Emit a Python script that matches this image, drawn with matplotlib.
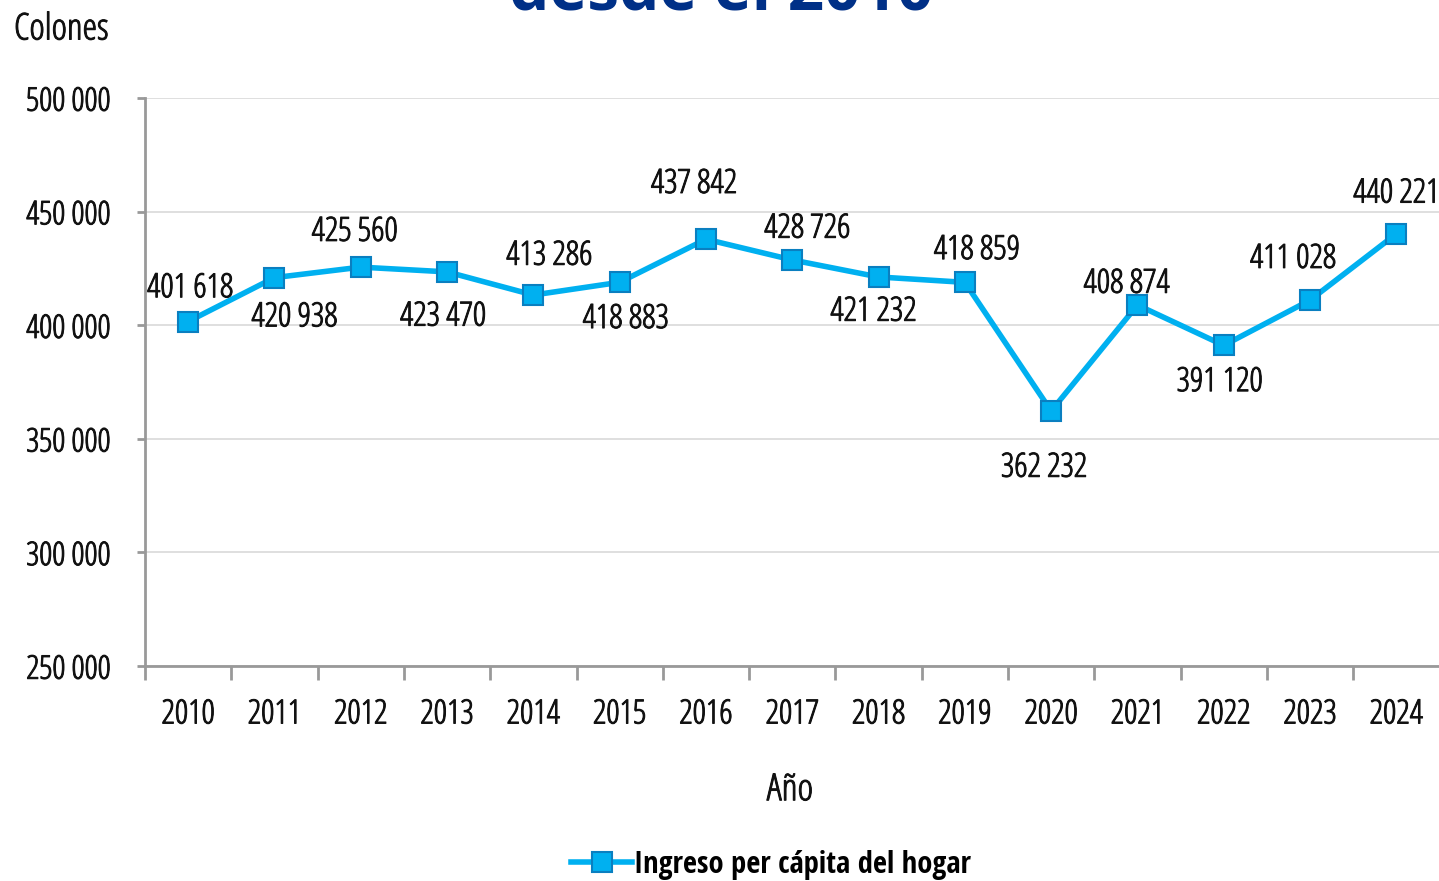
import matplotlib
matplotlib.use("Agg")
import matplotlib.pyplot as plt
from matplotlib.lines import Line2D
from matplotlib import font_manager as fm
import matplotlib.patheffects as pe

years = ["2010", "2011", "2012", "2013", "2014", "2015", "2016", "2017",
         "2018", "2019", "2020", "2021", "2022", "2023", "2024"]
ingreso = [401618, 420938, 425560, 423470, 413286, 418883, 437842, 428726,
           421232, 418859, 362232, 408874, 391120, 411028, 440221]
yticks = [250000, 300000, 350000, 400000, 450000, 500000]
series_name = "Ingreso per cápita del hogar"
title_text = "desde el 2010"

# label offsets in pixels (dx, dy) relative to the point (screen: +y up)
label_off = [(2, 37), (20, -36), (-6, 39), (-4, -41), (16, 43), (6, -33),
             (-12, 59), (15, 35), (-5, -31), (12, 36), (-7, -53), (-11, 25),
             (-4, -33), (-17, 45), (0, 44)]


def find_font(fname_part):
    for f in fm.fontManager.ttflist:
        if f.fname.endswith(fname_part):
            return f.fname
    return None


light_path = find_font("OpenSans-CondLight.ttf")
bold_cond_path = find_font("OpenSans-CondBold.ttf")


def fp(path, size, fallback_family="Open Sans", weight="normal", stretch="condensed"):
    if path:
        return fm.FontProperties(fname=path, size=size)
    return fm.FontProperties(family=fallback_family, size=size, weight=weight, stretch=stretch)


TXT = "#111111"
thick = [pe.withStroke(linewidth=0.7, foreground=TXT)]

W, H = 1439, 881
fig = plt.figure(figsize=(W / 100, H / 100), dpi=100)
ax = fig.add_axes([145 / W, 1 - 666 / H, (1439.5 - 145) / W, (666 - 98) / H])

x = list(range(len(years)))
line_c = "#00B0F0"
edge_c = "#0A7FC0"
ax.plot(x, ingreso, color=line_c, lw=4, marker="s", ms=14,
        mfc=line_c, mec=edge_c, mew=1.5, zorder=3, clip_on=False)

ax.set_xlim(-0.5, len(years) - 0.5)
ax.set_ylim(250000, 500000)
ax.set_yticks(yticks)
ax.set_yticklabels([f"{v:,}".replace(",", " ") for v in yticks])
ax.set_xticks(x)
ax.set_xticklabels(years)
for lab in ax.get_yticklabels():
    lab.set_fontproperties(fp(light_path, 23.5))
    lab.set_color(TXT)
    lab.set_path_effects(thick)
for lab in ax.get_xticklabels():
    lab.set_fontproperties(fp(light_path, 24))
    lab.set_color(TXT)
    lab.set_path_effects(thick)
ax.set_xticks([i - 0.5 for i in range(len(years) + 1)], minor=True)
ax.tick_params(axis="x", which="major", length=0, pad=23)
ax.tick_params(axis="x", which="minor", length=10, width=2, color="#999999", direction="out")
ax.tick_params(axis="y", which="major", length=6, width=2, color="#999999", pad=19)

ax.grid(axis="y", color="#D9D9D9", lw=1.2)
ax.set_axisbelow(True)
for s in ["top", "right"]:
    ax.spines[s].set_visible(False)
for s in ["left", "bottom"]:
    ax.spines[s].set_color("#999999")
    ax.spines[s].set_linewidth(2)

lab_fp = fp(light_path, 24)
for i, v in enumerate(ingreso):
    dx, dy = label_off[i]
    ax.annotate(f"{v:,}".replace(",", " "), (i, v), xytext=(dx * 0.72, (dy - 4) * 0.72),
                textcoords="offset points", ha="center", va="center",
                fontproperties=lab_fp, color=TXT, zorder=4, path_effects=thick)

fig.text(790 / W, 1 - 790 / H, "Año", ha="center", va="center",
         fontproperties=fp(light_path, 27), color=TXT, path_effects=thick)
fig.text(14 / W, 1 - 30 / H, "Colones", ha="left", va="center",
         fontproperties=fp(light_path, 26.5), color=TXT, path_effects=thick)
fig.text(721 / W, 1 - 10 / H, title_text, ha="center", va="baseline",
         fontproperties=fm.FontProperties(family="Open Sans", weight="bold", size=46),
         color="#003087")

handle = Line2D([0], [0], color=line_c, lw=4, marker="s", ms=14, mfc=line_c, mec=edge_c, mew=1.5)
fig.legend([handle], [series_name], loc="center", bbox_to_anchor=(771 / W, 1 - 865 / H),
           frameon=False, prop=fp(bold_cond_path, 22, weight="bold"), handlelength=2.0,
           handletextpad=0.05)

fig.savefig("out.png", dpi=100)
